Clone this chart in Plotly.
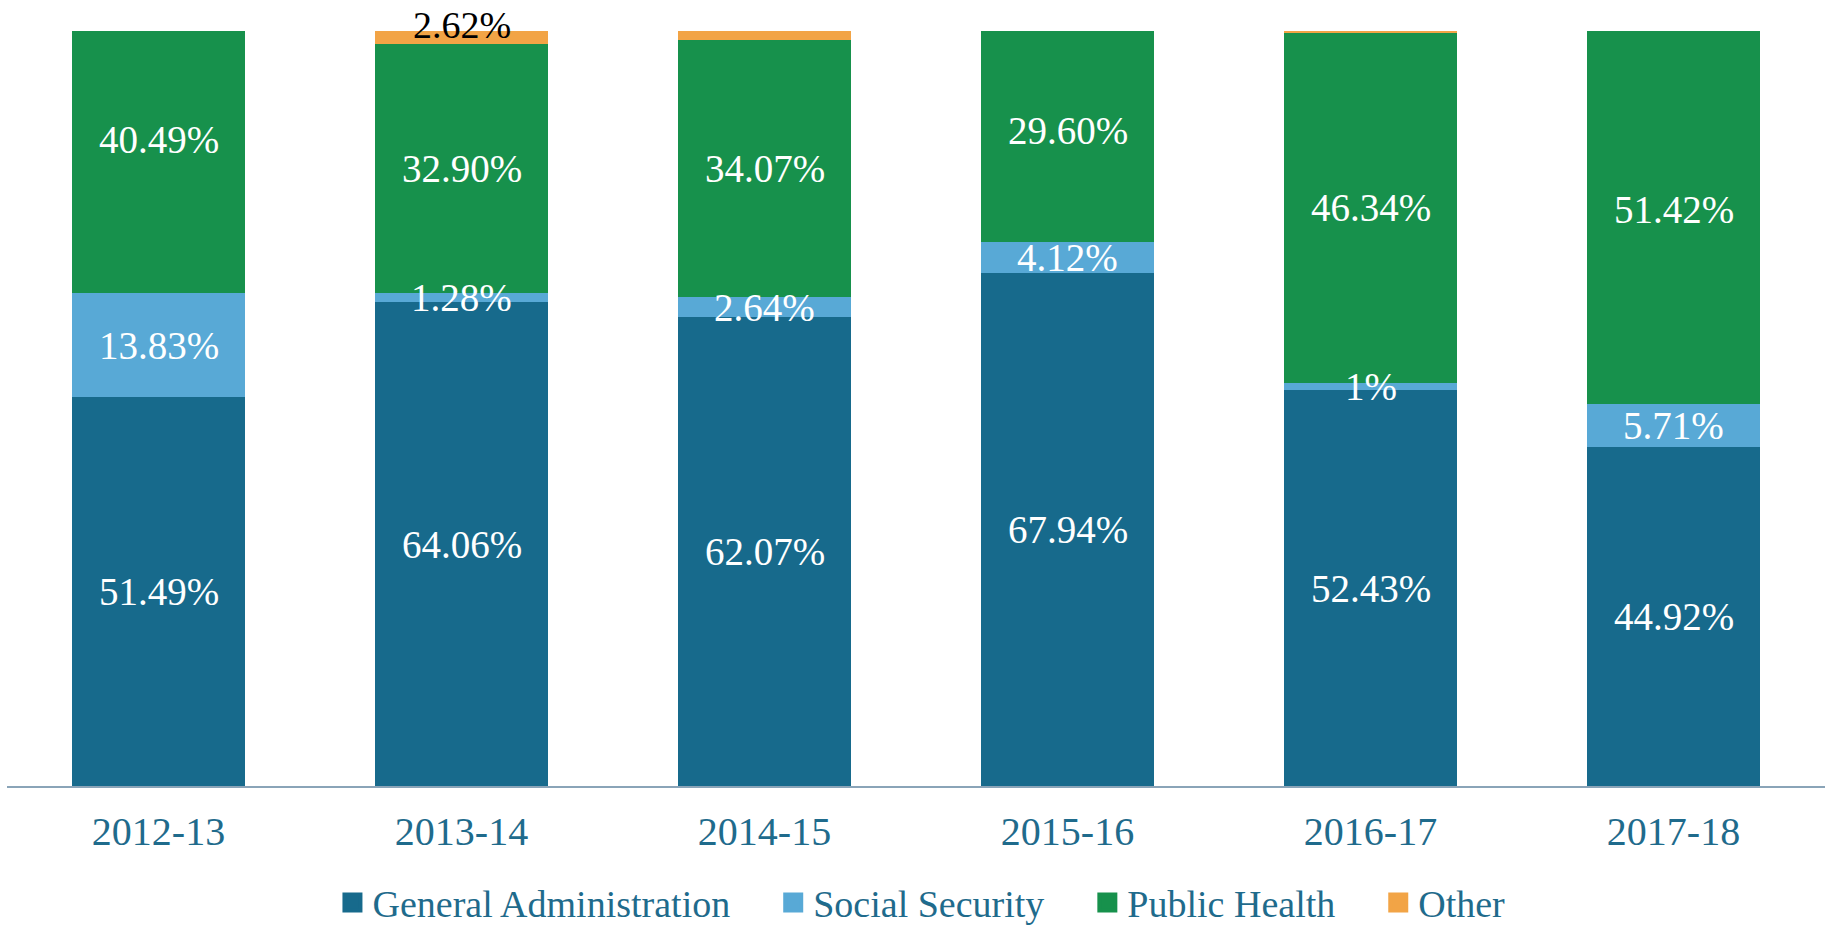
import plotly.graph_objects as go

years = ["2012-13", "2013-14", "2014-15", "2015-16", "2016-17", "2017-18"]
general_admin = [51.49, 64.06, 62.07, 67.94, 52.43, 44.92]
social_security = [13.83, 1.28, 2.64, 4.12, 1.00, 5.71]
public_health = [40.49, 32.90, 34.07, 29.60, 46.34, 51.42]
other = [0.0, 2.62, 1.22, 0.0, 0.23, 0.0]

# which segments carry a printed value
show_ga = [True] * 6
show_ss = [True] * 6
show_ph = [True] * 6
show_other = [False, True, False, False, False, False]

series = [
    ("General Administration", general_admin, "#176a8c", show_ga),
    ("Social Security", social_security, "#58a9d6", show_ss),
    ("Public Health", public_health, "#17914c", show_ph),
    ("Other", other, "#f2a446", show_other),
]

LABEL_FONT = "Liberation Serif"
TEAL = "#1f6b8c"
PAD = "\u00a0" * 4  # spacing between legend entries

fig = go.Figure()
for name, vals, color, _ in series:
    fig.add_trace(go.Bar(
        x=years, y=vals, name=name, showlegend=False,
        marker=dict(color=color, line=dict(width=0)),
    ))

# legend entries drawn as larger square swatches
for k, (name, vals, color, _) in enumerate(series):
    label = name + (PAD if k < len(series) - 1 else "")
    fig.add_trace(go.Scatter(
        x=[years[0]], y=[None], name=label, mode="markers",
        marker=dict(symbol="square", size=16, color=color,
                    line=dict(width=4, color=color)),
        hoverinfo="skip",
    ))

# value labels at the middle of each stacked segment
base = [0.0] * len(years)
for name, vals, color, shown in series:
    for i, yr in enumerate(years):
        if shown[i]:
            v = vals[i]
            txt = f"{v:g}%" if v == int(v) else f"{v:.2f}%"
            if name == "Other":
                # small top segment: label sits on the top of the stack
                fig.add_annotation(
                    x=yr, xref="x", y=(base[i] + v) / 100, yref="paper",
                    text=txt, showarrow=False,
                    xanchor="center", yanchor="middle",
                    font=dict(family=LABEL_FONT, size=38, color="black"),
                )
            else:
                fig.add_annotation(
                    x=yr, y=base[i] + v / 2, text=txt, showarrow=False,
                    xanchor="center", yanchor="middle",
                    font=dict(family=LABEL_FONT, size=39, color="white"),
                )
        base[i] += vals[i]

fig.update_layout(
    barmode="stack",
    bargap=0.43,
    width=1825, height=927,
    margin=dict(l=7, r=0, t=31, b=141, autoexpand=False),
    plot_bgcolor="white",
    paper_bgcolor="white",
    showlegend=True,
    legend=dict(
        orientation="h", x=0.503, xanchor="center",
        yref="container", y=0.026, yanchor="middle",
        font=dict(family=LABEL_FONT, size=38, color=TEAL),
        itemclick=False, traceorder="normal", itemwidth=30,
    ),
    xaxis=dict(
        showline=True, linecolor="#8aa4b8", linewidth=2,
        ticks="outside", ticklen=9, tickcolor="rgba(0,0,0,0)",
        tickfont=dict(family=LABEL_FONT, size=40, color=TEAL),
        showgrid=False, fixedrange=True,
    ),
    yaxis=dict(
        range=[0, 100], visible=False, showgrid=False, fixedrange=True,
    ),
)

fig.write_html("out.html")
